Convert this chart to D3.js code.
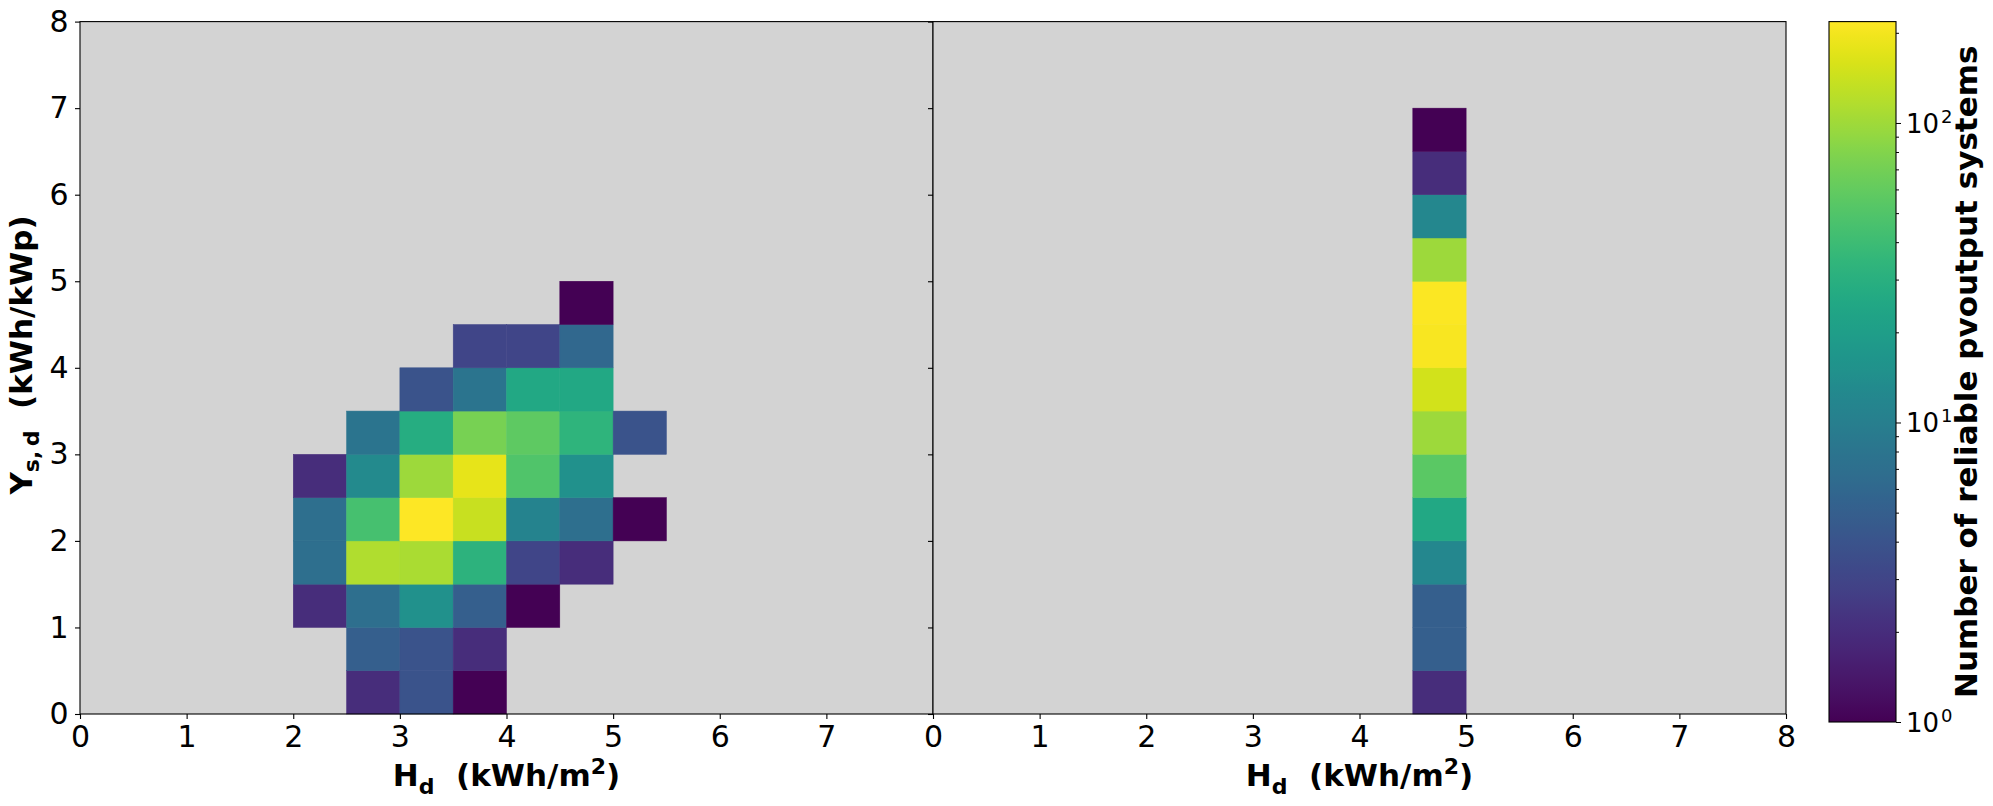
<!DOCTYPE html>
<html>
<head>
<meta charset="utf-8">
<script src="https://cdn.jsdelivr.net/npm/d3@7/dist/d3.min.js"></script>
<style>
  body { margin: 0; background: #fff; }
  svg { display: block; }
  text { font-family: "DejaVu Sans", sans-serif; fill: #000; white-space: pre; }
</style>
</head>
<body>
<svg id="chart" width="1993" height="806"></svg>
<script>
"use strict"

// bin width of the 2D histogram (kWh)
const binSize = 0.5
const leftXTicks = [0, 1, 2, 3, 4, 5, 6, 7]
const rightXTicks = [0, 1, 2, 3, 4, 5, 6, 7, 8]
const yTicks = [0, 1, 2, 3, 4, 5, 6, 7, 8]

// left panel: [H_d bin start, Y bin start, count]
const leftCells = [
  [2.5, 0.0, 2], [3.0, 0.0, 4], [3.5, 0.0, 1],
  [2.5, 0.5, 5], [3.0, 0.5, 4], [3.5, 0.5, 2],
  [2.0, 1.0, 2], [2.5, 1.0, 7], [3.0, 1.0, 15], [3.5, 1.0, 5], [4.0, 1.0, 1],
  [2.0, 1.5, 7], [2.5, 1.5, 115], [3.0, 1.5, 110], [3.5, 1.5, 32], [4.0, 1.5, 3], [4.5, 1.5, 2],
  [2.0, 2.0, 7], [2.5, 2.0, 45], [3.0, 2.0, 215], [3.5, 2.0, 140], [4.0, 2.0, 11], [4.5, 2.0, 7], [5.0, 2.0, 1],
  [2.0, 2.5, 2], [2.5, 2.5, 13], [3.0, 2.5, 100], [3.5, 2.5, 180], [4.0, 2.5, 50], [4.5, 2.5, 15],
  [2.5, 3.0, 8], [3.0, 3.0, 28], [3.5, 3.0, 72], [4.0, 3.0, 57], [4.5, 3.0, 33], [5.0, 3.0, 4],
  [3.0, 3.5, 4], [3.5, 3.5, 8], [4.0, 3.5, 25], [4.5, 3.5, 25],
  [3.5, 4.0, 3], [4.0, 4.0, 3], [4.5, 4.0, 6],
  [4.5, 4.5, 1],
]

// right panel: one column at H_d 4.5-5, counts from Y = 0 upward
const rightColumnX = 4.5
const rightCounts = [2, 5, 5, 12, 25, 55, 100, 150, 205, 210, 100, 12, 2, 1]

// colour bar (log scale)
const cbMin = 1
const cbMax = 218
const cbMajor = [1, 10, 100]
const cbMinor = [2, 3, 4, 5, 6, 7, 8, 9, 20, 30, 40, 50, 60, 70, 80, 90, 200]

const xLabelMain = "H", xLabelSub = "d", xLabelRest = "  (kWh/m", xLabelSup = "2", xLabelEnd = ")"
const yLabelMain = "Y", yLabelSub = "s,\u2009d", yLabelRest = "  (kWh/kWp)"
const cbLabel = "Number of reliable pvoutput systems"

const $ = {
  top: 21.6,
  bottom: 714,
  panels: [[80, 933], [933, 1786]],
  cb: { x0: 1829, x1: 1896, y0: 21.6, y1: 722 },
  bg: "#d3d3d3",
  tickFont: "30px",
  labelFont: "31px",
}

const svg = d3.select("#chart")

const y = d3.scaleLinear().domain([0, 8]).range([$.bottom, $.top])
const color = d3.scaleSequentialLog(d3.interpolateViridis).domain([cbMin, cbMax])

const rightCells = rightCounts.map((c, i) => [rightColumnX, i * binSize, c])

function drawPanel(range, cells, xTicks, showYLabels) {
  const x = d3.scaleLinear().domain([0, 8]).range(range)
  const g = svg.append("g")

  g.append("rect")
    .attr("x", range[0]).attr("y", $.top)
    .attr("width", range[1] - range[0]).attr("height", $.bottom - $.top)
    .attr("fill", $.bg)

  g.append("g").selectAll("rect")
    .data(cells)
    .enter().append("rect")
      .attr("x", d => x(d[0]))
      .attr("y", d => y(d[1] + binSize))
      .attr("width", d => x(d[0] + binSize) - x(d[0]))
      .attr("height", d => y(d[1]) - y(d[1] + binSize))
      .attr("fill", d => color(d[2]))
      .attr("stroke", d => color(d[2]))
      .attr("stroke-width", 0.5)

  const xAxis = g.append("g")
    .attr("transform", `translate(0,${$.bottom})`)
    .call(d3.axisBottom(x).tickValues(xTicks).tickSize(5).tickPadding(6.5).tickFormat(d3.format("d")))
  const yAxis = g.append("g")
    .attr("transform", `translate(${range[0]},0)`)
    .call(d3.axisLeft(y).tickValues(yTicks).tickSize(5).tickPadding(6.5)
      .tickFormat(showYLabels ? d3.format("d") : ""))

  ;[xAxis, yAxis].forEach(a => {
    a.select(".domain").remove()
    a.selectAll("line").attr("stroke", "#000").attr("stroke-width", 1.1)
    a.selectAll("text").style("font-size", $.tickFont).attr("fill", "#000")
  })

  g.append("rect")
    .attr("x", range[0]).attr("y", $.top)
    .attr("width", range[1] - range[0]).attr("height", $.bottom - $.top)
    .attr("fill", "none").attr("stroke", "#000").attr("stroke-width", 1.1)

  // x label
  const cx = (range[0] + range[1]) / 2
  const t = g.append("text")
    .attr("x", cx).attr("y", 786)
    .attr("text-anchor", "middle")
    .style("font-size", $.labelFont).style("font-weight", "bold")
  t.append("tspan").text(xLabelMain)
  t.append("tspan").attr("dy", 8).style("font-size", "22px").text(xLabelSub)
  t.append("tspan").attr("dy", -8).text(xLabelRest)
  t.append("tspan").attr("dy", -12).style("font-size", "22px").text(xLabelSup)
  t.append("tspan").attr("dy", 12).text(xLabelEnd)
}

drawPanel($.panels[0], leftCells, leftXTicks, true)
drawPanel($.panels[1], rightCells, rightXTicks, false)

// y label
const yl = svg.append("text")
  .attr("transform", `translate(32,355) rotate(-90)`)
  .attr("text-anchor", "middle")
  .style("font-size", $.labelFont).style("font-weight", "bold")
yl.append("tspan").text(yLabelMain)
yl.append("tspan").attr("dy", 7).style("font-size", "22px").text(yLabelSub)
yl.append("tspan").attr("dy", -7).text(yLabelRest)

// colour bar
const cbScale = d3.scaleLog().domain([cbMin, cbMax]).range([$.cb.y1, $.cb.y0])
const grad = svg.append("defs").append("linearGradient")
  .attr("id", "viridis").attr("x1", 0).attr("y1", 1).attr("x2", 0).attr("y2", 0)
d3.range(0, 1.0001, 0.02).forEach(t => {
  grad.append("stop").attr("offset", t).attr("stop-color", d3.interpolateViridis(t))
})
svg.append("rect")
  .attr("x", $.cb.x0).attr("y", $.cb.y0)
  .attr("width", $.cb.x1 - $.cb.x0).attr("height", $.cb.y1 - $.cb.y0)
  .attr("fill", "url(#viridis)")
  .attr("stroke", "#000").attr("stroke-width", 1.1)

const cbAxis = svg.append("g").attr("transform", `translate(${$.cb.x1},0)`)
cbAxis.call(d3.axisRight(cbScale).tickValues(cbMajor).tickSize(5).tickFormat(""))
cbAxis.select(".domain").remove()
const cbMinorAxis = svg.append("g").attr("transform", `translate(${$.cb.x1},0)`)
cbMinorAxis.call(d3.axisRight(cbScale).tickValues(cbMinor).tickSize(3).tickFormat(""))
cbMinorAxis.select(".domain").remove()
svg.selectAll("g line").attr("stroke", "#000")

cbMajor.forEach(v => {
  const t = svg.append("text")
    .attr("x", $.cb.x1 + 10).attr("y", cbScale(v) + 10)
    .style("font-size", "26px")
  t.append("tspan").text("10")
  t.append("tspan").attr("dy", -10).attr("dx", 2).style("font-size", "18px").text(String(Math.round(Math.log10(v))))
})

svg.append("text")
  .attr("transform", `translate(1977,${($.cb.y0 + $.cb.y1) / 2}) rotate(-90)`)
  .attr("text-anchor", "middle")
  .style("font-size", $.labelFont).style("font-weight", "bold")
  .text(cbLabel)
</script>
</body>
</html>
